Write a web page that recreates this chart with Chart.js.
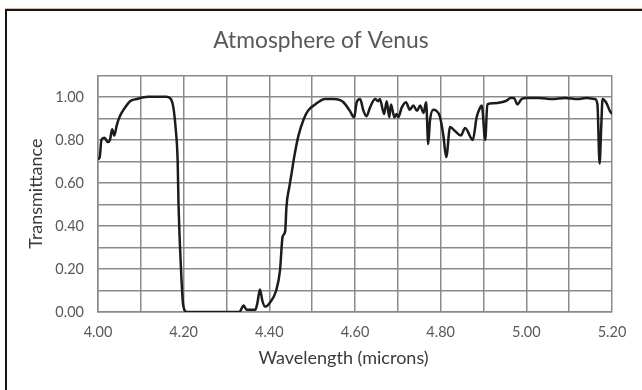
<!DOCTYPE html>
<html>
<head>
<meta charset="utf-8">
<script src="https://cdn.jsdelivr.net/npm/chart.js@4.4.1/dist/chart.umd.min.js"></script>
<style>
  html, body { margin: 0; padding: 0; background: #fff; }
  #wrap { position: relative; width: 642px; height: 390px; overflow: hidden; }
  #frame { position: absolute; left: 5px; top: 9px; width: 700px; height: 420px;
    border-top: 2px solid #161616; border-left: 2px solid #161616; }
  #edge { position: absolute; left: 5px; top: 8px; width: 700px; height: 1px; background: #e9b49a; }
  canvas { position: absolute; left: 0; top: 0; }
</style>
</head>
<body>
<div id="wrap">
  <div id="edge"></div>
  <div id="frame"></div>
  <canvas id="venus" width="642" height="390"></canvas>
</div>
<script>
const wavelength = [
  4.000, 4.004, 4.008, 4.015, 4.023, 4.028, 4.033, 4.038, 4.044, 4.051,
  4.063, 4.075, 4.090, 4.117, 4.140, 4.160, 4.170, 4.176, 4.181, 4.186,
  4.188, 4.194, 4.199, 4.207, 4.250, 4.300, 4.330, 4.340, 4.347, 4.367,
  4.372, 4.378, 4.384, 4.390, 4.400, 4.416, 4.425, 4.431, 4.437, 4.440,
  4.447, 4.452, 4.458, 4.468, 4.480, 4.490, 4.507, 4.530, 4.550, 4.565,
  4.573, 4.588, 4.598, 4.604, 4.612, 4.619, 4.627, 4.635, 4.647, 4.654,
  4.658, 4.668, 4.674, 4.680, 4.684, 4.692, 4.697, 4.701, 4.709, 4.719,
  4.728, 4.736, 4.745, 4.752, 4.760, 4.766, 4.771, 4.775, 4.783, 4.790,
  4.798, 4.806, 4.813, 4.822, 4.834, 4.847, 4.857, 4.875, 4.884, 4.892,
  4.896, 4.904, 4.909, 4.923, 4.942, 4.956, 4.962, 4.971, 4.979, 4.989,
  5.000, 5.030, 5.060, 5.090, 5.120, 5.140, 5.160, 5.166, 5.171, 5.175,
  5.178, 5.186, 5.195, 5.200
]
const transmittance = [
  0.71, 0.72, 0.80, 0.81, 0.79, 0.80, 0.85, 0.82, 0.87, 0.91,
  0.95, 0.98, 0.99, 1.00, 1.00, 1.00, 0.99, 0.95, 0.86, 0.70,
  0.50, 0.19, 0.03, 0.00, 0.00, 0.00, 0.00, 0.03, 0.01, 0.01,
  0.04, 0.105, 0.05, 0.025, 0.04, 0.10, 0.195, 0.35, 0.375, 0.49,
  0.585, 0.645, 0.72, 0.82, 0.895, 0.935, 0.965, 0.99, 0.99, 0.985,
  0.975, 0.935, 0.905, 0.975, 0.99, 0.94, 0.91, 0.95, 0.99, 0.98,
  0.99, 0.92, 0.98, 0.905, 0.965, 0.905, 0.92, 0.905, 0.95, 0.975,
  0.94, 0.96, 0.935, 0.96, 0.925, 0.975, 0.78, 0.89, 0.94, 0.935,
  0.91, 0.825, 0.72, 0.86, 0.84, 0.82, 0.855, 0.80, 0.905, 0.95,
  0.96, 0.80, 0.965, 0.97, 0.975, 0.985, 0.995, 0.995, 0.965, 0.99,
  0.995, 0.995, 0.99, 0.995, 0.99, 0.995, 0.99, 0.965, 0.69, 0.87,
  0.99, 0.975, 0.935, 0.92
]

const FONT = 'Lato, "Open Sans", sans-serif'
const TEXT = '#595959'
const GRID = '#878b90'

function evenTenth(v) {
  return Math.round(v * 10) % 2 === 0
}

new Chart(document.getElementById('venus'), {
  type: 'line',
  data: {
    datasets: [{
      label: 'Transmittance',
      data: wavelength.map((w, i) => ({ x: w, y: transmittance[i] })),
      borderColor: '#1c1c1c',
      borderWidth: 2.5,
      pointRadius: 0,
      cubicInterpolationMode: 'monotone',
      fill: false,
    }],
  },
  options: {
    responsive: false,
    animation: false,
    layout: { padding: 0 },
    plugins: {
      legend: { display: false },
      tooltip: { enabled: false },
      title: {
        display: true,
        text: 'Atmosphere of Venus',
        color: TEXT,
        font: { family: FONT, size: 22.8, weight: 'normal', lineHeight: 1.2 },
        padding: { top: 27, bottom: 21 },
      },
    },
    scales: {
      x: {
        type: 'linear',
        min: 4,
        max: 5.2,
        ticks: {
          stepSize: 0.1,
          color: TEXT,
          padding: 12,
          maxRotation: 0,
          autoSkip: false,
          font: { family: FONT, size: 14.5 },
          callback: (v) => (evenTenth(v) ? v.toFixed(2) : ''),
        },
        grid: { color: GRID, lineWidth: 1.5, drawTicks: false },
        border: { color: GRID, width: 1.5 },
        title: {
          display: true,
          text: 'Wavelength (microns)     ',
          color: '#3a3a3a',
          font: { family: FONT, size: 18, lineHeight: 1.2 },
          padding: { top: 0, bottom: 21 },
        },
        afterFit: (scale) => { scale.height = 78 },
      },
      y: {
        min: 0,
        max: 1.1,
        ticks: {
          stepSize: 0.1,
          color: TEXT,
          padding: 14,
          autoSkip: false,
          font: { family: FONT, size: 14.5 },
          callback: (v) => (evenTenth(v) && v < 1.05 ? v.toFixed(2) : ''),
        },
        grid: { color: GRID, lineWidth: 1.5, drawTicks: false },
        border: { color: GRID, width: 1.5 },
        title: {
          display: true,
          text: 'Transmittance',
          color: '#3a3a3a',
          font: { family: FONT, size: 18, lineHeight: 1.2 },
          padding: { top: 25, bottom: 0 },
        },
        afterFit: (scale) => { scale.width = 98 },
      },
      // empty right-hand margin, so the title stays centred on the whole canvas
      yRight: {
        position: 'right',
        min: 0,
        max: 1.1,
        ticks: { display: false },
        grid: { display: false, drawTicks: false },
        border: { display: false },
        afterFit: (scale) => { scale.width = 30 },
      },
    },
  },
})
</script>
</body>
</html>
